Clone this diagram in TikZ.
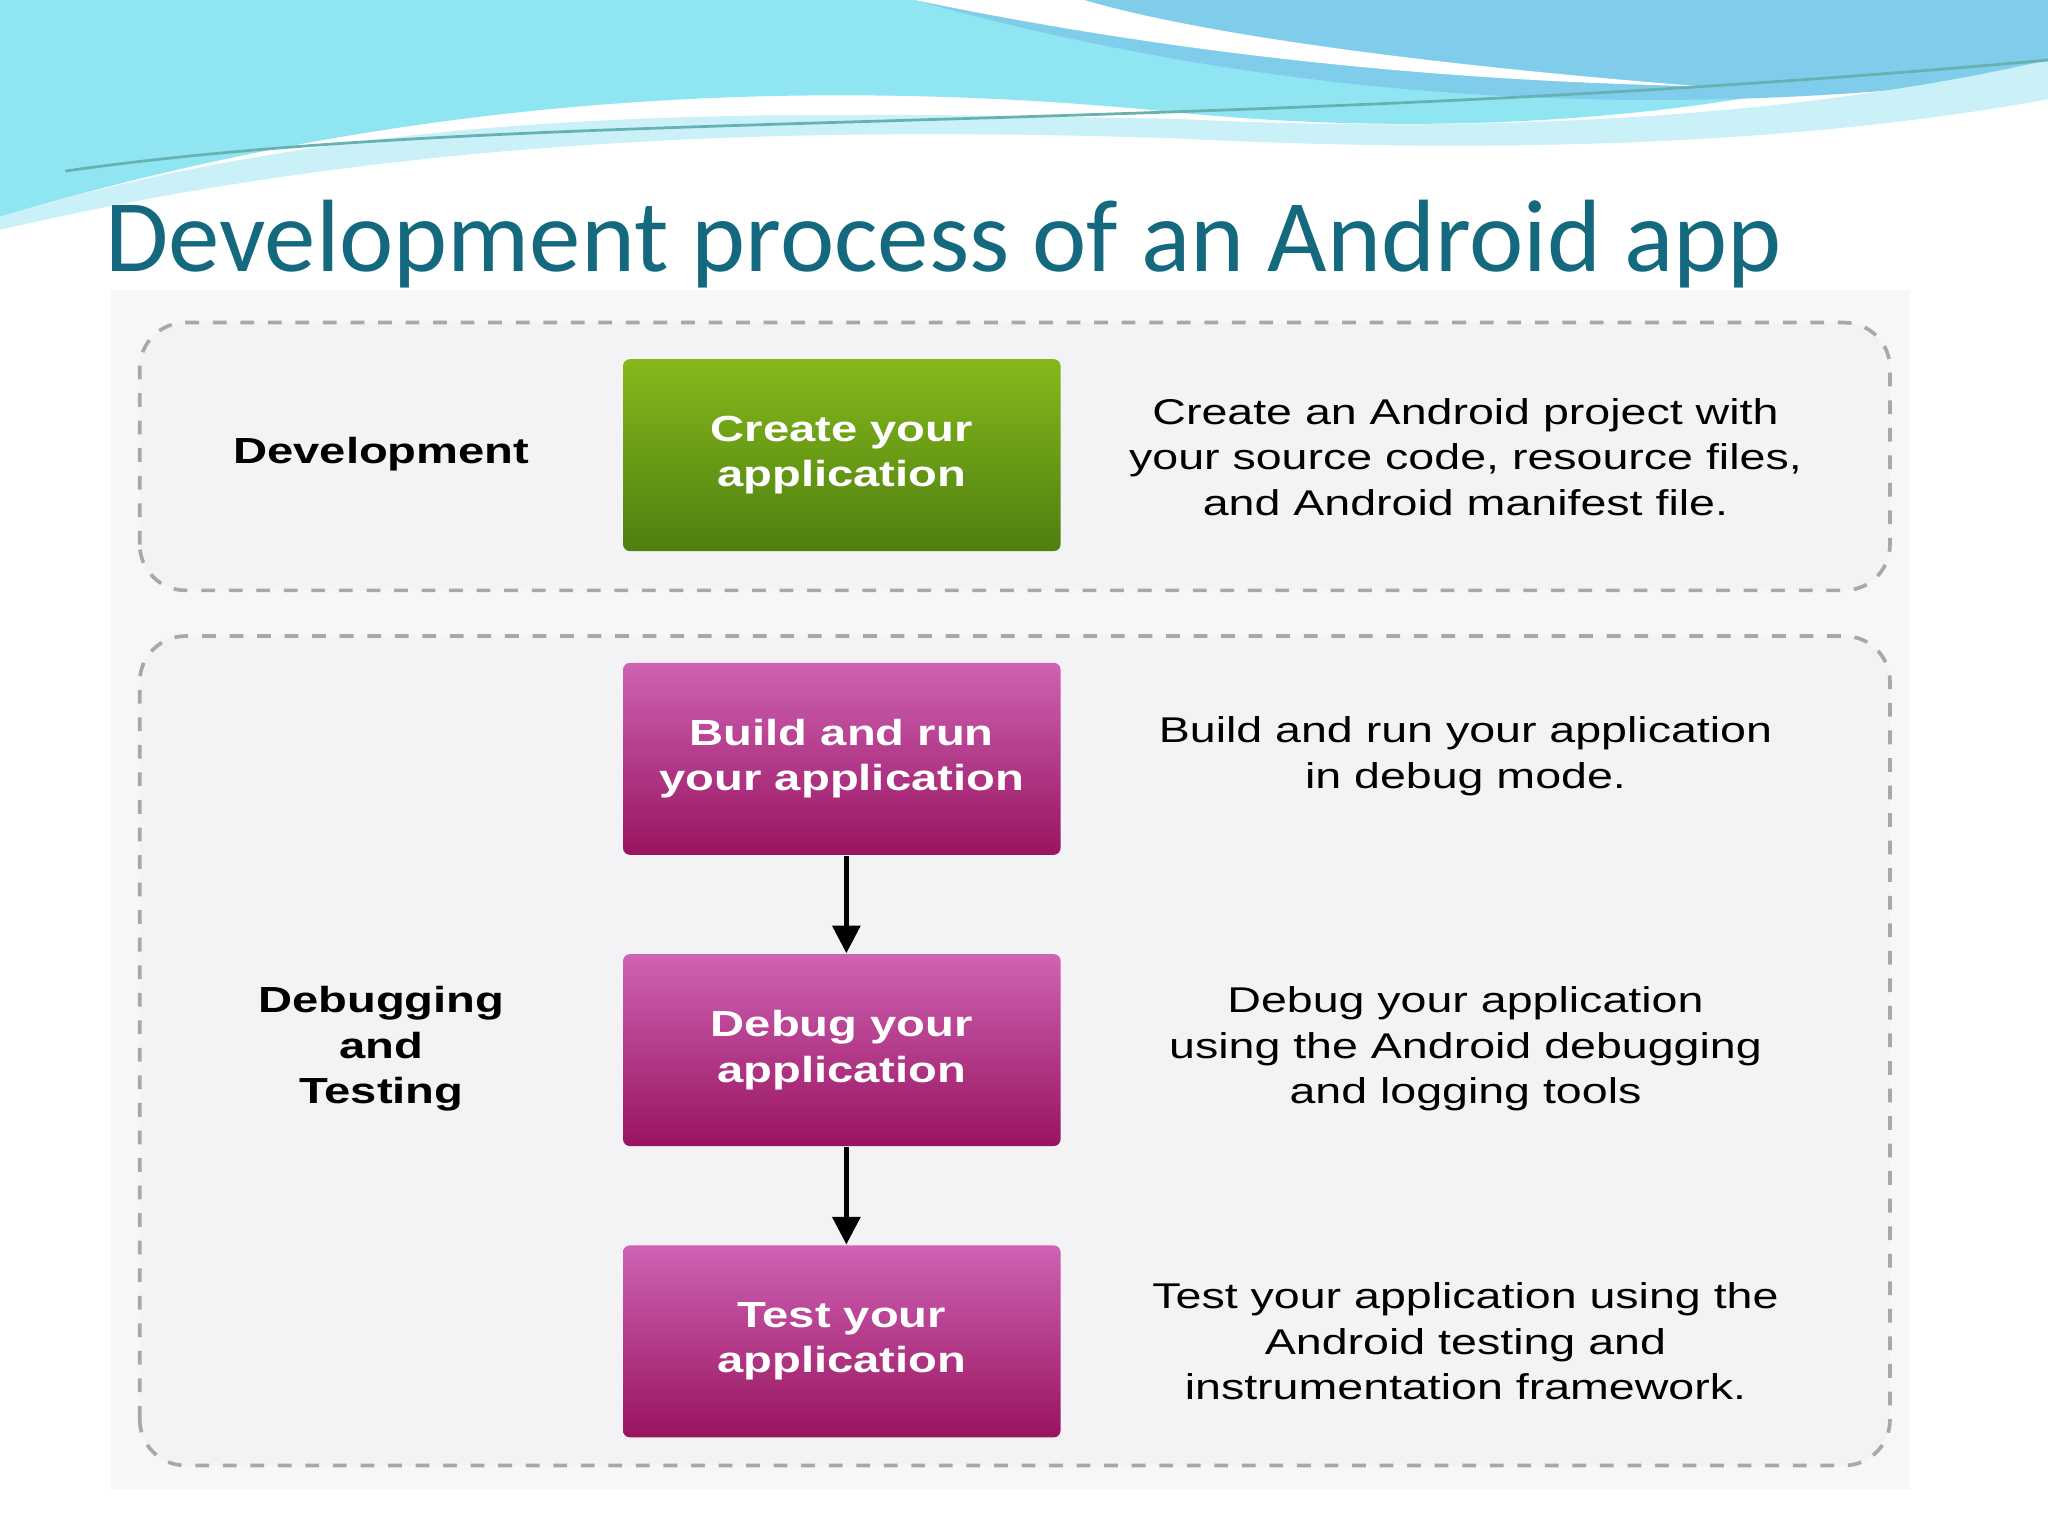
\documentclass[tikz,border=0pt]{standalone}
\usepackage{fontspec}
\setmainfont{Liberation Sans}
\newfontfamily\widefont[FakeStretch=1.3]{Liberation Sans}
\newfontfamily\titlefont{Carlito}
\usetikzlibrary{arrows.meta}
\definecolor{titleteal}{HTML}{15697E}
\definecolor{panelbg}{HTML}{F3F3F5}
\definecolor{dashgray}{HTML}{A8A8A8}
\definecolor{gtop}{HTML}{86B81C}
\definecolor{gbot}{HTML}{4E7F10}
\definecolor{mtop}{HTML}{CE62B4}
\definecolor{mbot}{HTML}{98145F}
\definecolor{waveA}{HTML}{8FE6F2}
\definecolor{waveB}{HTML}{7FCDEB}
\definecolor{waveC}{HTML}{C9F1F7}
\tikzset{
  grp/.style={draw=dashgray, dashed, line width=0.8pt, rounded corners=0.35cm, fill=panelbg},
  gbox/.style={minimum width=3.35cm, minimum height=1.47cm, top color=gtop, bottom color=gbot, rounded corners=1.5pt, text=white, font=\widefont\bfseries\fontsize{7.9pt}{9.9pt}\selectfont, align=center},
  mbox/.style={gbox, top color=mtop, bottom color=mbot},
  lbl/.style={font=\widefont\bfseries\fontsize{7.9pt}{9.9pt}\selectfont, align=center},
  desc/.style={font=\widefont\fontsize{7.8pt}{9.9pt}\selectfont, align=center},
  arr/.style={-{Triangle[length=6pt,width=6pt]}, line width=1pt}
}
\begin{document}
\begin{tikzpicture}[x=1cm,y=1cm]
\useasboundingbox (0,0) rectangle (15.68,11.76);
\fill[white] (0,0) rectangle (15.68,11.76);
% header waves
\fill[waveA] (0,11.76) -- (0,10.1) .. controls (3,11.0) and (6,11.2) .. (9,10.9) .. controls (11,10.7) and (13.5,10.8) .. (15.68,11.6) -- (15.68,11.76) -- cycle;
\fill[waveB] (7.0,11.76) .. controls (9,11.2) and (12,10.7) .. (15.68,11.2) -- (15.68,11.76) -- cycle;
\fill[waveC] (0,10.1) .. controls (3,11.0) and (6,10.9) .. (9,10.85) .. controls (11,10.75) and (13.5,10.8) .. (15.68,11.3) -- (15.68,11.0) .. controls (13.5,10.6) and (11,10.6) .. (9,10.7) .. controls (6,10.8) and (3,10.7) .. (0,10.0) -- cycle;
\fill[white] (7.0,11.76) .. controls (8.5,11.45) and (10.5,11.15) .. (13,11.1) .. controls (10.5,11.3) and (9,11.55) .. (8.3,11.76) -- cycle;
\draw[teal!60, line width=0.6pt] (0.5,10.45) .. controls (4,10.95) and (9,10.7) .. (15.68,11.3);
\node[anchor=base west, text=titleteal, font=\titlefont\fontsize{22.4pt}{26pt}\selectfont, inner sep=0pt] (title) at (0.8,9.68) {Development process of an Android app};
\fill[panelbg!70] (0.85,0.36) rectangle (14.62,9.54);
\draw[grp] (1.07,7.24) rectangle (14.47,9.29);
\draw[grp] (1.07,0.54) rectangle (14.47,6.89);
\node[gbox] (create) at (6.445,8.275) {Create your\\application};
\node[mbox] (build) at (6.445,5.95) {Build and run\\your application};
\node[mbox] (debug) at (6.445,3.72) {Debug your\\application};
\node[mbox] (test) at (6.445,1.49) {Test your\\application};
\draw[arr] (build.south -| 6.48,0) -- (debug.north -| 6.48,0);
\draw[arr] (debug.south -| 6.48,0) -- (test.north -| 6.48,0);
\node[lbl] (ldev) at (2.92,8.28) {Development};
\node[lbl] (ldbg) at (2.92,3.73) {Debugging\\and\\Testing};
\node[desc] (d1) at (11.22,8.26) {Create an Android project with\\your source code, resource files,\\and Android manifest file.};
\node[desc] (d2) at (11.22,5.97) {Build and run your application\\in debug mode.};
\node[desc] (d3) at (11.22,3.73) {Debug your application\\using the Android debugging\\and logging tools};
\node[desc] (d4) at (11.22,1.49) {Test your application using the\\Android testing and\\instrumentation framework.};
\end{tikzpicture}
\end{document}
